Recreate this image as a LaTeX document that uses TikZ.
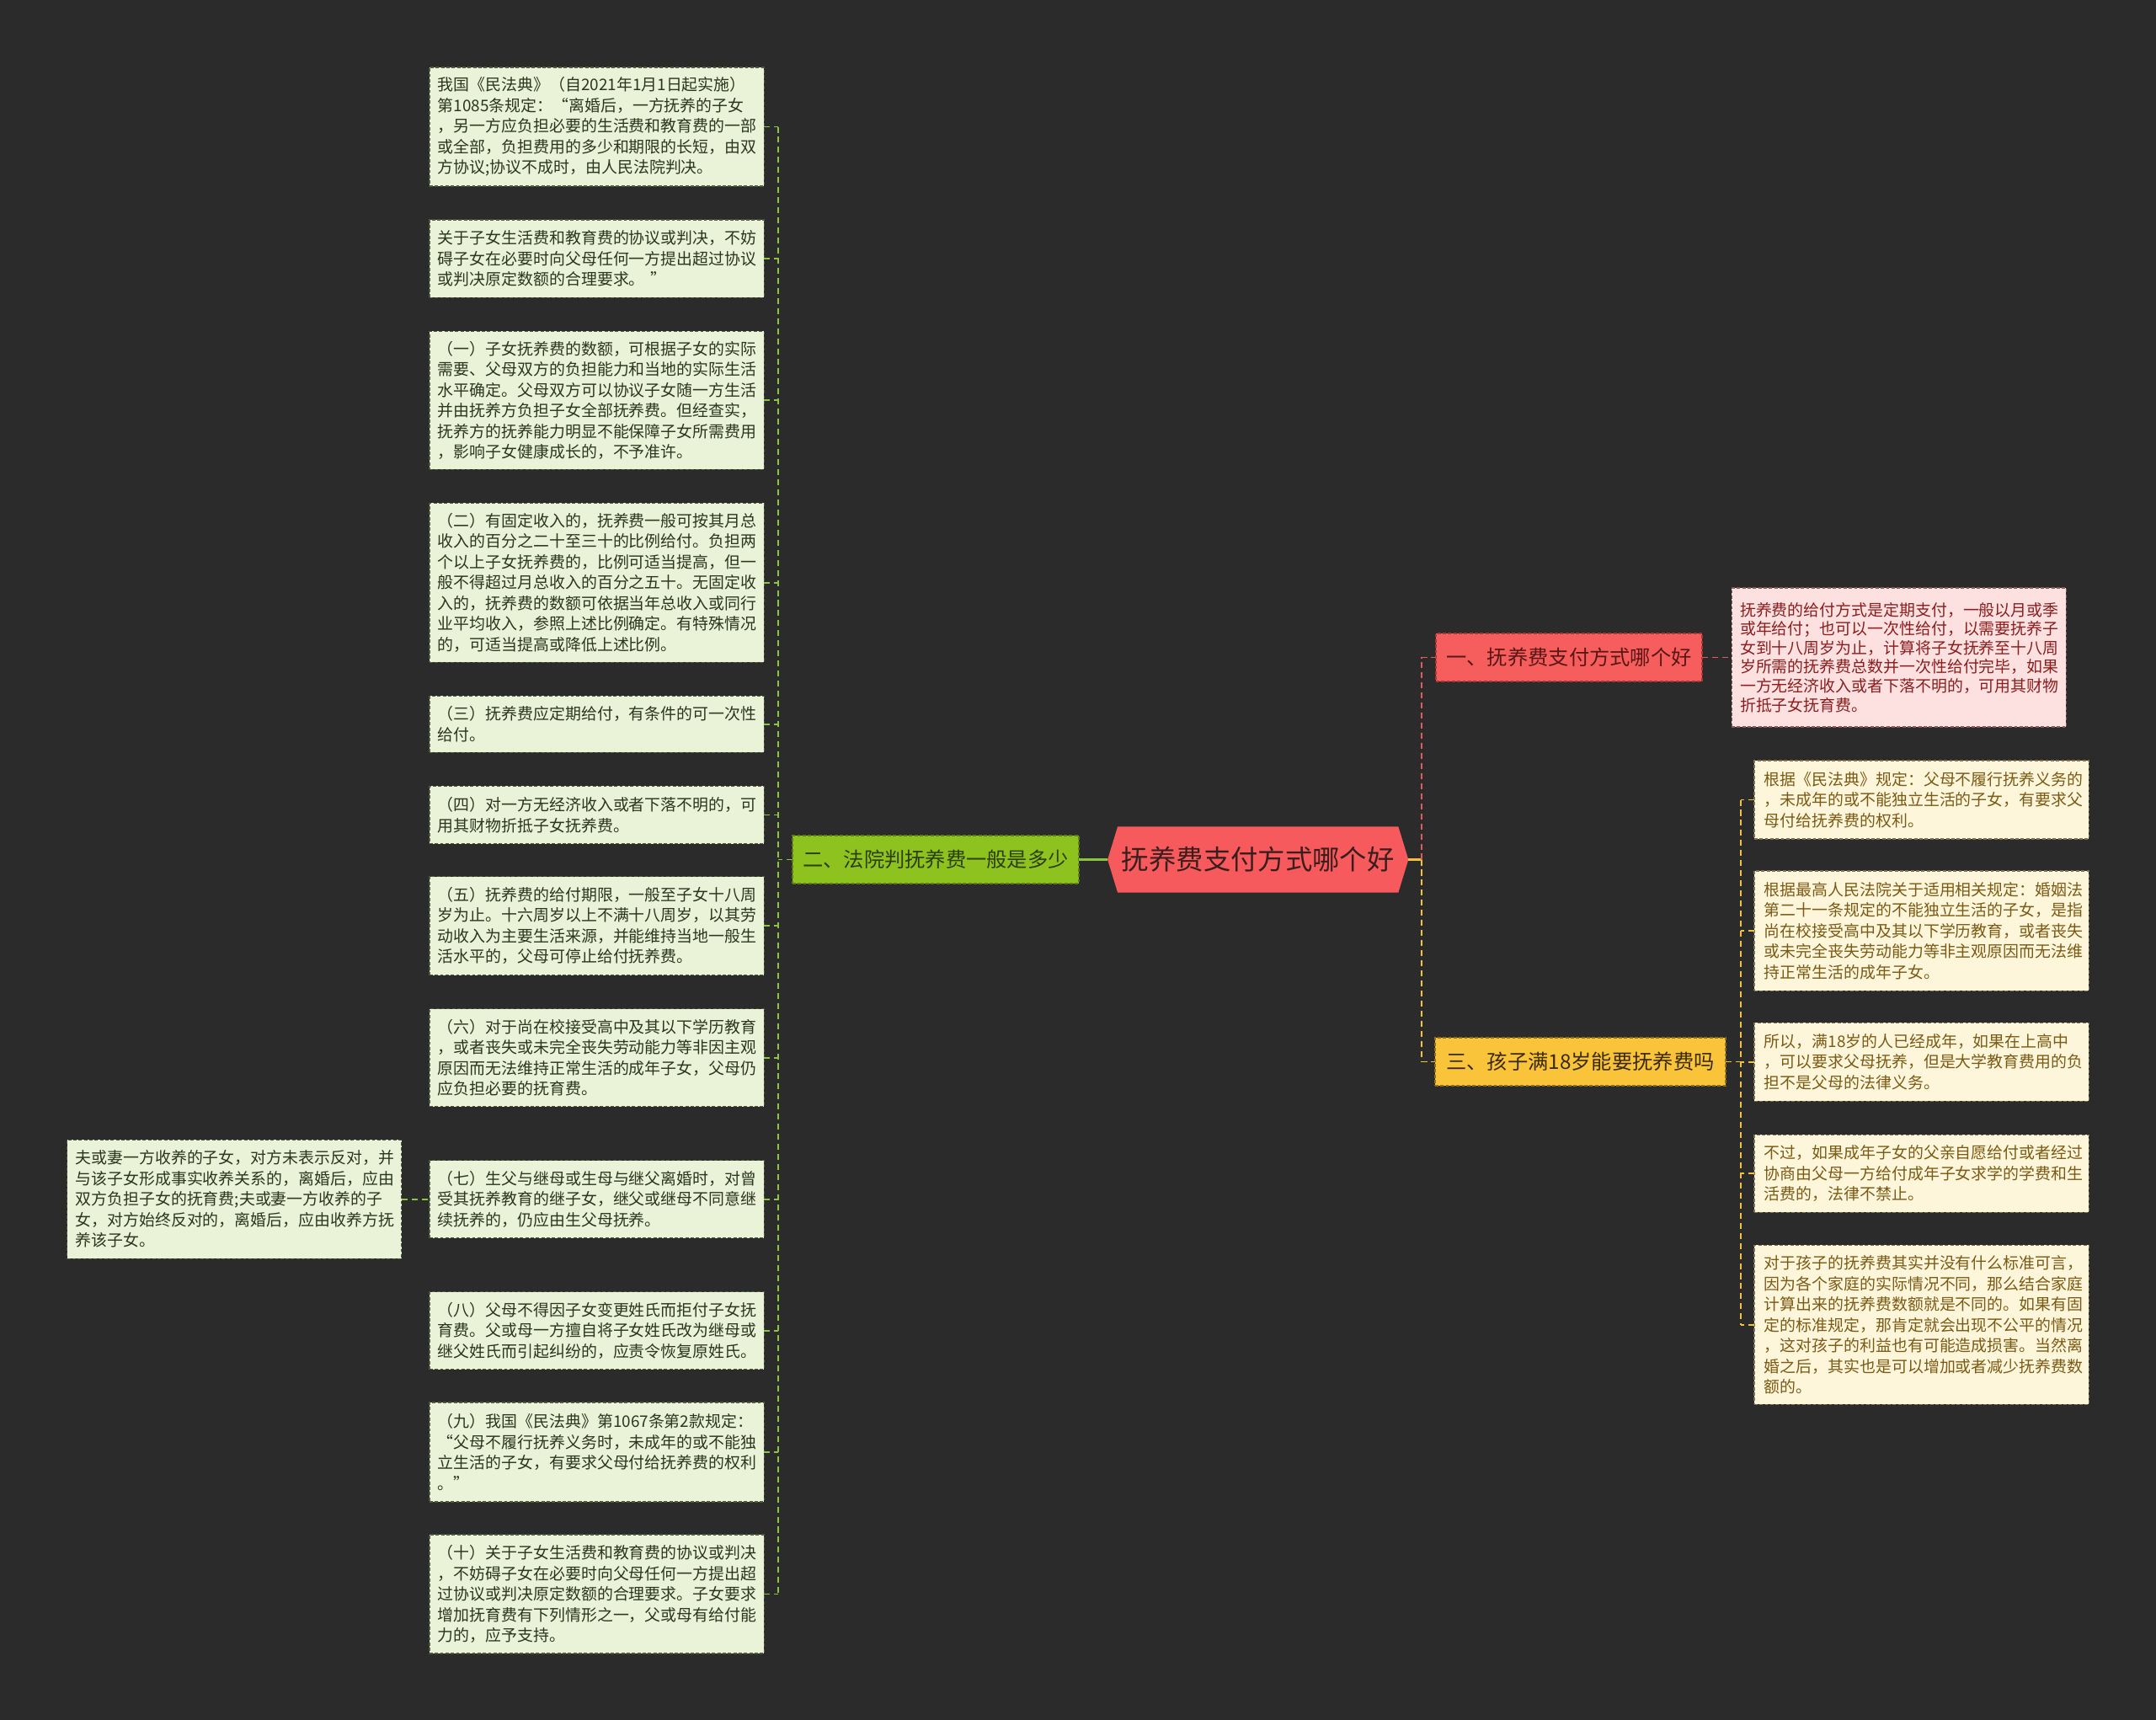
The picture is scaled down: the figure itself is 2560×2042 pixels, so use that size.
\documentclass[tikz,border=0pt]{standalone}
\usepackage{fontspec}
\setmainfont{Noto Sans CJK SC}
\usepackage{tikz}
\usetikzlibrary{positioning,shapes.symbols,calc}
\definecolor{bgdark}{HTML}{2B2B2B}
\definecolor{leaffill}{HTML}{EAF2D7}
\definecolor{leafline}{HTML}{4E5A40}
\definecolor{leaftext}{HTML}{2C361F}
\definecolor{creamfill}{HTML}{FDF6DB}
\definecolor{creamline}{HTML}{7E7050}
\definecolor{creamtext}{HTML}{7A5A14}
\definecolor{pinkfill}{HTML}{FDE1E1}
\definecolor{pinkline}{HTML}{8A5A5A}
\definecolor{pinktext}{HTML}{8A1E1E}
\definecolor{rootred}{HTML}{F75A5C}
\definecolor{roottext}{HTML}{3A1E1E}
\definecolor{limefill}{HTML}{8DC21F}
\definecolor{limeline}{HTML}{5C7D14}
\definecolor{limetext}{HTML}{2C3E0C}
\definecolor{redfill}{HTML}{F65E5E}
\definecolor{redline}{HTML}{A83636}
\definecolor{redtext}{HTML}{5A1616}
\definecolor{goldfill}{HTML}{FAC43A}
\definecolor{goldline}{HTML}{8E7012}
\definecolor{goldtext}{HTML}{3A2A06}
\definecolor{limelink}{HTML}{8CC63F}
\definecolor{goldlink}{HTML}{F2C23E}
\definecolor{redlink}{HTML}{E25A5A}
\tikzset{
  leafbase/.style={rectangle,minimum width=3.97cm,text width=3.77cm,align=left,inner xsep=0.1cm,inner ysep=1pt,outer sep=0pt,
    font=\fontsize{5.38pt}{6.97pt}\selectfont,dash pattern=on 1.1pt off 0.7pt,line width=0.35pt},
  lbox/.style={leafbase,draw=leafline,fill=leaffill,text=leaftext},
  rbox/.style={leafbase,draw=creamline,fill=creamfill,text=creamtext,text width=3.73cm},
  pbox/.style={leafbase,draw=pinkline,fill=pinkfill,text=pinktext,minimum width=3.95cm,font=\fontsize{5.38pt}{6.4pt}\selectfont},
  topic/.style={rectangle,inner sep=1pt,outer sep=0pt,minimum height=0.57cm,font=\fontsize{6.9pt}{8pt}\selectfont,
    dash pattern=on 1.1pt off 0.7pt,line width=0.4pt},
  rootnode/.style={shape=signal,signal to=west and east,signal pointer angle=146,fill=rootred,text=roottext,outer sep=0pt,
    minimum width=3.57cm,minimum height=0.78cm,inner sep=1pt,font=\fontsize{9.2pt}{10pt}\selectfont},
  llink/.style={draw=limelink,line width=0.5pt,dash pattern=on 2pt off 1.4pt},
  glink/.style={draw=goldlink,line width=0.55pt,dash pattern=on 2pt off 1.4pt},
  rlink/.style={draw=redlink,line width=0.55pt,dash pattern=on 2pt off 1.4pt}
}
\begin{document}
\begin{tikzpicture}[x=0.01cm,y=-0.01cm]
  \useasboundingbox (0,0) rectangle (2560,2042);
  \fill[bgdark] (0,0) rectangle (2560,2042);
  \node[lbox,minimum height=1.41cm] (n1085) at (708.5,150.5) {我国《民法典》（自2021年1月1日起实施）\\第1085条规定：“离婚后，一方抚养的子女\\，另一方应负担必要的生活费和教育费的一部\\或全部，负担费用的多少和期限的长短，由双\\方协议;协议不成时，由人民法院判决。};
  \node[lbox,minimum height=0.92cm,below=0.4cm of n1085] (nclaim) {关于子女生活费和教育费的协议或判决，不妨\\碍子女在必要时向父母任何一方提出超过协议\\或判决原定数额的合理要求。 ”};
  \node[lbox,minimum height=1.64cm,below=0.4cm of nclaim] (nitem1) {（一）子女抚养费的数额，可根据子女的实际\\需要、父母双方的负担能力和当地的实际生活\\水平确定。父母双方可以协议子女随一方生活\\并由抚养方负担子女全部抚养费。但经查实，\\抚养方的抚养能力明显不能保障子女所需费用\\，影响子女健康成长的，不予准许。};
  \node[lbox,minimum height=1.89cm,below=0.4cm of nitem1] (nitem2) {（二）有固定收入的，抚养费一般可按其月总\\收入的百分之二十至三十的比例给付。负担两\\个以上子女抚养费的，比例可适当提高，但一\\般不得超过月总收入的百分之五十。无固定收\\入的，抚养费的数额可依据当年总收入或同行\\业平均收入，参照上述比例确定。有特殊情况\\的，可适当提高或降低上述比例。};
  \node[lbox,minimum height=0.67cm,below=0.4cm of nitem2] (nitem3) {（三）抚养费应定期给付，有条件的可一次性\\给付。};
  \node[lbox,minimum height=0.68cm,below=0.4cm of nitem3] (nitem4) {（四）对一方无经济收入或者下落不明的，可\\用其财物折抵子女抚养费。};
  \node[lbox,minimum height=1.17cm,below=0.39cm of nitem4] (nitem5) {（五）抚养费的给付期限，一般至子女十八周\\岁为止。十六周岁以上不满十八周岁，以其劳\\动收入为主要生活来源，并能维持当地一般生\\活水平的，父母可停止给付抚养费。};
  \node[lbox,minimum height=1.16cm,below=0.4cm of nitem5] (nitem6) {（六）对于尚在校接受高中及其以下学历教育\\，或者丧失或未完全丧失劳动能力等非因主观\\原因而无法维持正常生活的成年子女，父母仍\\应负担必要的抚育费。};
  \node[lbox,minimum height=0.92cm,below=0.64cm of nitem6] (nitem7) {（七）生父与继母或生母与继父离婚时，对曾\\受其抚养教育的继子女，继父或继母不同意继\\续抚养的，仍应由生父母抚养。};
  \node[lbox,minimum height=0.92cm,below=0.64cm of nitem7] (nitem8) {（八）父母不得因子女变更姓氏而拒付子女抚\\育费。父或母一方擅自将子女姓氏改为继母或\\继父姓氏而引起纠纷的，应责令恢复原姓氏。};
  \node[lbox,minimum height=1.18cm,below=0.39cm of nitem8] (nitem9) {（九）我国《民法典》第1067条第2款规定：\\“父母不履行抚养义务时，未成年的或不能独\\立生活的子女，有要求父母付给抚养费的权利\\。”};
  \node[lbox,minimum height=1.41cm,below=0.39cm of nitem9] (nitem10) {（十）关于子女生活费和教育费的协议或判决\\，不妨碍子女在必要时向父母任何一方提出超\\过协议或判决原定数额的合理要求。子女要求\\增加抚育费有下列情形之一，父或母有给付能\\力的，应予支持。};
  \node[lbox,minimum height=1.41cm,left=0.33cm of nitem7] (nadopt) {夫或妻一方收养的子女，对方未表示反对，并\\与该子女形成事实收养关系的，离婚后，应由\\双方负担子女的抚育费;夫或妻一方收养的子\\女，对方始终反对的，离婚后，应由收养方抚\\养该子女。};
  \node[topic,draw=limeline,fill=limefill,text=limetext,minimum width=3.4cm] (ncourt) at (1111,1020.5) {二、法院判抚养费一般是多少};
  \node[rootnode,right=0.34cm of ncourt] (nroot) {抚养费支付方式哪个好};
  \node[topic,draw=redline,fill=redfill,text=redtext,minimum width=3.16cm] (npay) at (1863,780.5) {一、抚养费支付方式哪个好};
  \node[pbox,minimum height=1.65cm,right=0.35cm of npay] (npaynote) {抚养费的给付方式是定期支付，一般以月或季\\或年给付；也可以一次性给付，以需要抚养子\\女到十八周岁为止，计算将子女抚养至十八周\\岁所需的抚养费总数并一次性给付完毕，如果\\一方无经济收入或者下落不明的，可用其财物\\折抵子女抚育费。};
  \node[topic,draw=goldline,fill=goldfill,text=goldtext,minimum width=3.45cm] (nadult) at (1876.5,1260.5) {三、孩子满18岁能要抚养费吗};
  \node[rbox,minimum height=0.93cm] (nduty) at (2281.5,949.5) {根据《民法典》规定：父母不履行抚养义务的\\，未成年的或不能独立生活的子女，有要求父\\母付给抚养费的权利。};
  \node[rbox,minimum height=1.42cm,below=0.38cm of nduty] (nscope) {根据最高人民法院关于适用相关规定：婚姻法\\第二十一条规定的不能独立生活的子女，是指\\尚在校接受高中及其以下学历教育，或者丧失\\或未完全丧失劳动能力等非主观原因而无法维\\持正常生活的成年子女。};
  \node[rbox,minimum height=0.93cm,below=0.38cm of nscope] (nhigh) {所以，满18岁的人已经成年，如果在上高中\\，可以要求父母抚养，但是大学教育费用的负\\担不是父母的法律义务。};
  \node[rbox,minimum height=0.92cm,below=0.4cm of nhigh] (nvolun) {不过，如果成年子女的父亲自愿给付或者经过\\协商由父母一方给付成年子女求学的学费和生\\活费的，法律不禁止。};
  \node[rbox,minimum height=1.89cm,below=0.39cm of nvolun] (nstd) {对于孩子的抚养费其实并没有什么标准可言，\\因为各个家庭的实际情况不同，那么结合家庭\\计算出来的抚养费数额就是不同的。如果有固\\定的标准规定，那肯定就会出现不公平的情况\\，这对孩子的利益也有可能造成损害。当然离\\婚之后，其实也是可以增加或者减少抚养费数\\额的。};
  \coordinate (lspine) at ($(n1085.east)+(17,0)$);
  \coordinate (rspine) at ($(nduty.west)+(-16,0)$);
  \coordinate (rjoin) at ($(nroot.east)+(16,0)$);
  \foreach \n in {n1085,nclaim,nitem1,nitem2,nitem3,nitem4,nitem5,nitem6,nitem7,nitem8,nitem9,nitem10}{\draw[llink] (\n.east) -- (\n.east -| lspine);}
  \draw[llink] (n1085.east -| lspine) -- (nitem10.east -| lspine);
  \draw[llink] (ncourt.west) -- (ncourt.west -| lspine);
  \draw[llink] (nadopt.east) -- (nitem7.west);
  \draw[draw=limelink,line width=0.85pt] (ncourt.east) -- (nroot.west);
  \draw[draw=goldlink,line width=0.85pt] (nroot.east) -- (rjoin);
  \draw[rlink] (rjoin) |- (npay.west);
  \draw[glink] (rjoin) |- (nadult.west);
  \draw[rlink] (npay.east) -- (npaynote.west);
  \draw[glink] (nadult.east) -- (nadult.east -| rspine);
  \foreach \n in {nduty,nscope,nhigh,nvolun,nstd}{\draw[glink] (\n.west) -- (\n.west -| rspine);}
  \draw[glink] (nduty.west -| rspine) -- (nstd.west -| rspine);
\end{tikzpicture}
\end{document}
